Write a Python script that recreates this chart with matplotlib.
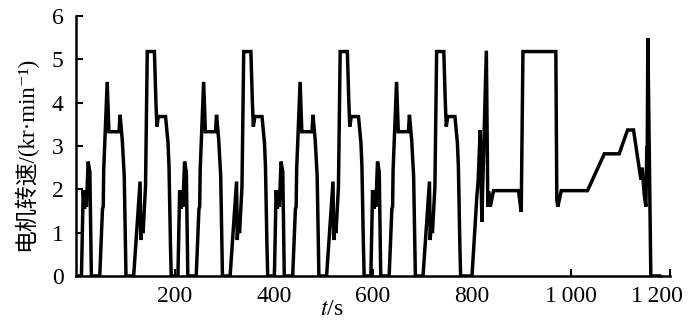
import matplotlib
matplotlib.use('Agg')
import matplotlib.pyplot as plt
import matplotlib.transforms as mtransforms
import numpy as np

plt.rcParams['font.family'] = ['Liberation Serif', 'Noto Sans CJK SC', 'DejaVu Serif']
plt.rcParams['mathtext.fontset'] = 'stix'

# one ECE (urban) segment, time relative to its start (s) and motor speed (kr/min)
ece_t = [0, 11, 14.5, 17, 19.5, 21, 24.5, 28, 31,
         48, 53.5, 55, 56, 63, 66.5, 87, 89, 93.5, 97.5, 101,
         116.5, 129.5, 131, 133.5, 135.5, 140.5, 144, 158.5, 161.5, 163.5,
         166.5, 181, 186, 188, 191, 192.5]
ece_v = [0, 0, 1.98, 1.55, 1.98, 1.6, 2.64, 2.4, 0,
         0, 1.55, 1.6, 2.45, 4.48, 3.33, 3.33, 3.72, 3.14, 2.3, 0,
         0, 2.18, 0.83, 1.37, 0.99, 2.06, 5.18, 5.18, 4.02, 3.45,
         3.68, 3.68, 3.07, 2.52, 0.68, 0]
ece_starts = [0, 195, 390, 585]

# EUDC (extra-urban) segment, absolute time
eudc_t = [780, 800.5, 810.5, 813, 817, 820.5, 822, 829.5, 832.5, 834, 837.5,
          844, 894.5, 900, 903.5, 970, 972, 974, 981, 1034, 1068, 1098,
          1115, 1127, 1142, 1144.5, 1148.5, 1152, 1154, 1154.5, 1156, 1162, 1180]
eudc_v = [0, 0, 1.87, 2.2, 3.37, 1.25, 2.0, 5.2, 1.6, 1.95, 1.6,
          1.97, 1.97, 1.48, 5.18, 5.18, 1.75, 1.6, 1.97, 1.97, 2.82, 2.82,
          3.37, 3.37, 2.22, 2.5, 1.9, 1.6, 3.0, 2.3, 5.49, 0, 0]

x_ticks = [200, 400, 600, 800, 1000, 1200]
x_labels = ['200', '400', '600', '800', '1\u2009000', '1\u2009200']
y_ticks = [0, 1, 2, 3, 4, 5, 6]

t = []
v = []
for s in ece_starts:
    t += [s + a for a in ece_t]
    v += ece_v
t += eudc_t
v += eudc_v

fig = plt.figure(figsize=(7, 3.32), dpi=100)
ax = fig.add_axes([0.1086, 0.1687, 0.848, 0.783])
ax.plot(t, v, color='black', linewidth=2.5, solid_joinstyle='miter')

ax.set_xlim(0, 1200)
ax.set_ylim(0, 6)
ax.set_xticks(x_ticks)
ax.set_xticklabels(x_labels)
ax.set_yticks(y_ticks)
ax.tick_params(direction='in', length=5, width=1.5, labelsize=17)
ax.tick_params(axis='y', pad=9)
ax.tick_params(axis='x', pad=7)

# last x label sits a bit left of its tick in the original
last = ax.xaxis.get_major_ticks()[-1].label1
last.set_transform(last.get_transform() +
                   mtransforms.ScaledTranslation(-9 / 72, 0, fig.dpi_scale_trans))

for side in ['top', 'right']:
    ax.spines[side].set_visible(False)
for side in ['left', 'bottom']:
    ax.spines[side].set_linewidth(1.8)

ax.set_xlabel('$t$/s', fontsize=17)
ax.xaxis.set_label_coords(0.43, -0.09)
ax.set_ylabel('电机转速/(kr·min⁻¹)', fontsize=16.5)
ax.yaxis.set_label_coords(-0.066, 0.47)

fig.savefig('out.png', dpi=100)
